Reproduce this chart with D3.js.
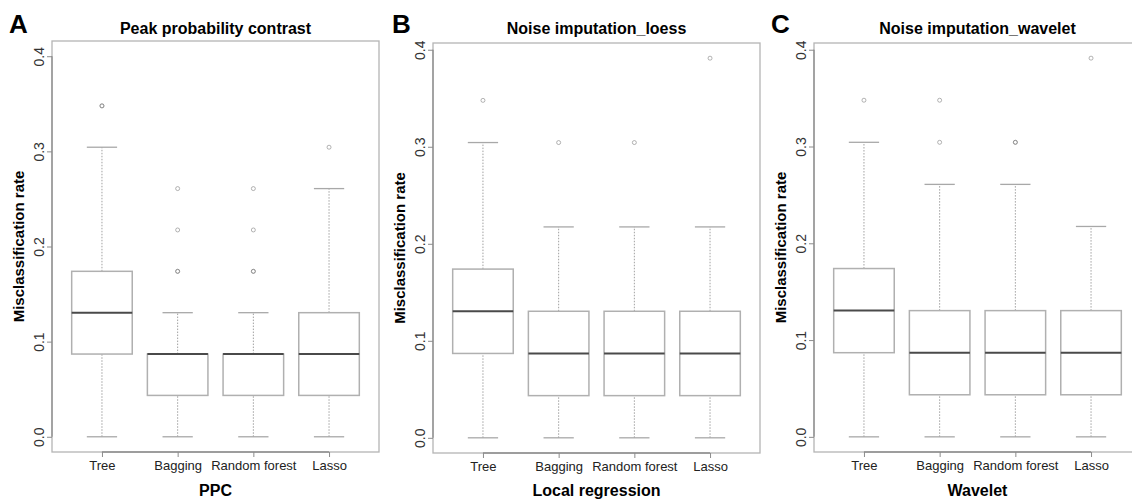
<!DOCTYPE html>
<html>
<head>
<meta charset="utf-8">
<script src="https://cdn.jsdelivr.net/npm/d3@7"></script>
<style>
  body { margin: 0; background: #fff; }
  svg { display: block; font-family: "Liberation Sans", Arial, sans-serif; }
</style>
</head>
<body>
<svg id="chart" width="1132" height="501"></svg>
<script>
// misclassification rates come in steps of 1/23 (23 test samples)
const categories = ["Tree", "Bagging", "Random forest", "Lasso"];
const yTicks = [0, 0.1, 0.2, 0.3, 0.4];

// [lower whisker, Q1, median, Q3, upper whisker]
const ppcStats = [
  [0, 2/23, 3/23, 4/23, 7/23],
  [0, 1/23, 2/23, 2/23, 3/23],
  [0, 1/23, 2/23, 2/23, 3/23],
  [0, 1/23, 2/23, 3/23, 6/23]
];
const ppcOutliers = [
  [8/23, 8/23],
  [4/23, 4/23, 5/23, 6/23],
  [4/23, 4/23, 5/23, 6/23],
  [7/23]
];

const loessStats = [
  [0, 2/23, 3/23, 4/23, 7/23],
  [0, 1/23, 2/23, 3/23, 5/23],
  [0, 1/23, 2/23, 3/23, 5/23],
  [0, 1/23, 2/23, 3/23, 5/23]
];
const loessOutliers = [
  [8/23],
  [7/23],
  [7/23],
  [9/23]
];

const waveletStats = [
  [0, 2/23, 3/23, 4/23, 7/23],
  [0, 1/23, 2/23, 3/23, 6/23],
  [0, 1/23, 2/23, 3/23, 6/23],
  [0, 1/23, 2/23, 3/23, 5/23]
];
const waveletOutliers = [
  [8/23],
  [7/23, 8/23],
  [7/23, 7/23],
  [9/23]
];

const panels = [
  { letter: "A", title: "Peak probability contrast", xlab: "PPC",
    stats: ppcStats, outliers: ppcOutliers, ymax: 0.4,
    left: 52, top: 41, bottom: 452, letterX: 9 },
  { letter: "B", title: "Noise imputation_loess", xlab: "Local regression",
    stats: loessStats, outliers: loessOutliers, ymax: 9/23,
    left: 433, top: 43, bottom: 453, letterX: 392 },
  { letter: "C", title: "Noise imputation_wavelet", xlab: "Wavelet",
    stats: waveletStats, outliers: waveletOutliers, ymax: 9/23,
    left: 814, top: 43, bottom: 452, letterX: 771 }
];

const svg = d3.select("#chart");
const panelWidth = 327;
const frameColor = "#b4b4b4";
const axisColor = "#8c8c8c";

panels.forEach(p => {
  const right = p.left + panelWidth;
  // R style 4% padding on both axes
  const padY = p.ymax * 0.04;
  const y = d3.scaleLinear()
    .domain([-padY, p.ymax + padY])
    .range([p.bottom, p.top]);
  const x = d3.scaleLinear()
    .domain([0.34, 4.66])
    .range([p.left, right]);

  const g = svg.append("g");

  // frame
  g.append("rect")
    .attr("x", p.left).attr("y", p.top)
    .attr("width", panelWidth).attr("height", p.bottom - p.top)
    .attr("fill", "none")
    .attr("stroke", frameColor)
    .attr("stroke-width", 1.3);

  // y axis
  const yAxis = g.append("g")
    .attr("transform", `translate(${p.left},0)`)
    .call(d3.axisLeft(y).tickValues(yTicks).tickSize(5).tickFormat(d3.format(".1f")));
  yAxis.select(".domain").remove();
  yAxis.selectAll(".tick line").attr("stroke", axisColor);
  yAxis.selectAll(".tick text")
    .attr("transform", "rotate(-90)")
    .attr("x", 0).attr("y", -13)
    .attr("dy", "0.35em")
    .attr("text-anchor", "middle")
    .attr("font-size", 14)
    .attr("fill", "#333");
  g.append("line")
    .attr("x1", p.left).attr("x2", p.left)
    .attr("y1", y(0)).attr("y2", y(0.4))
    .attr("stroke", axisColor).attr("stroke-width", 1.3);

  // x axis
  const xAxis = g.append("g")
    .attr("transform", `translate(0,${p.bottom})`)
    .call(d3.axisBottom(x).tickValues([1, 2, 3, 4]).tickSize(5)
      .tickFormat((d, i) => categories[i]));
  xAxis.select(".domain").remove();
  xAxis.selectAll(".tick line").attr("stroke", axisColor);
  xAxis.selectAll(".tick text")
    .attr("y", 9)
    .attr("font-size", 13)
    .attr("fill", "#222");
  g.append("line")
    .attr("x1", x(1)).attr("x2", x(4))
    .attr("y1", p.bottom).attr("y2", p.bottom)
    .attr("stroke", axisColor).attr("stroke-width", 1.3);

  const boxW = 0.8;
  const capW = 0.4;

  const boxes = g.selectAll(".box")
    .data(p.stats)
    .enter().append("g")
    .attr("class", "box");

  // whiskers
  boxes.append("line")
    .attr("x1", (d, i) => x(i + 1)).attr("x2", (d, i) => x(i + 1))
    .attr("y1", d => y(d[0])).attr("y2", d => y(d[1]))
    .attr("stroke", "#a0a0a0").attr("stroke-dasharray", "1.5,1.5");
  boxes.append("line")
    .attr("x1", (d, i) => x(i + 1)).attr("x2", (d, i) => x(i + 1))
    .attr("y1", d => y(d[3])).attr("y2", d => y(d[4]))
    .attr("stroke", "#a0a0a0").attr("stroke-dasharray", "1.5,1.5");

  // caps
  [0, 4].forEach(k => {
    boxes.append("line")
      .attr("x1", (d, i) => x(i + 1 - capW / 2)).attr("x2", (d, i) => x(i + 1 + capW / 2))
      .attr("y1", d => y(d[k])).attr("y2", d => y(d[k]))
      .attr("stroke", "#a8a8a8").attr("stroke-width", 1.3);
  });

  // box
  boxes.append("rect")
    .attr("x", (d, i) => x(i + 1 - boxW / 2))
    .attr("width", x(1 + boxW) - x(1))
    .attr("y", d => y(d[3]))
    .attr("height", d => y(d[1]) - y(d[3]))
    .attr("fill", "#fff")
    .attr("stroke", "#b0b0b0")
    .attr("stroke-width", 1.5);

  // median
  boxes.append("line")
    .attr("x1", (d, i) => x(i + 1 - boxW / 2)).attr("x2", (d, i) => x(i + 1 + boxW / 2))
    .attr("y1", d => y(d[2])).attr("y2", d => y(d[2]))
    .attr("stroke", "#4a4a4a").attr("stroke-width", 2);

  // outliers
  p.outliers.forEach((vals, i) => {
    g.selectAll(null)
      .data(vals)
      .enter().append("circle")
      .attr("cx", x(i + 1))
      .attr("cy", d => y(d))
      .attr("r", 2)
      .attr("fill", "none")
      .attr("stroke", "#777")
      .attr("stroke-opacity", 0.55)
      .attr("stroke-width", 1);
  });

  // titles
  g.append("text")
    .attr("x", (p.left + right) / 2).attr("y", 34)
    .attr("text-anchor", "middle")
    .attr("font-size", 16).attr("font-weight", "bold")
    .text(p.title);

  g.append("text")
    .attr("x", p.letterX).attr("y", 33)
    .attr("font-size", 26).attr("font-weight", "bold")
    .text(p.letter);

  g.append("text")
    .attr("x", (p.left + right) / 2).attr("y", 496)
    .attr("text-anchor", "middle")
    .attr("font-size", 16).attr("font-weight", "bold")
    .text(p.xlab);

  g.append("text")
    .attr("transform", `translate(${p.left - 28},${(p.top + p.bottom) / 2}) rotate(-90)`)
    .attr("text-anchor", "middle")
    .attr("font-size", 15).attr("font-weight", "bold")
    .text("Misclassification rate");
});
</script>
</body>
</html>
